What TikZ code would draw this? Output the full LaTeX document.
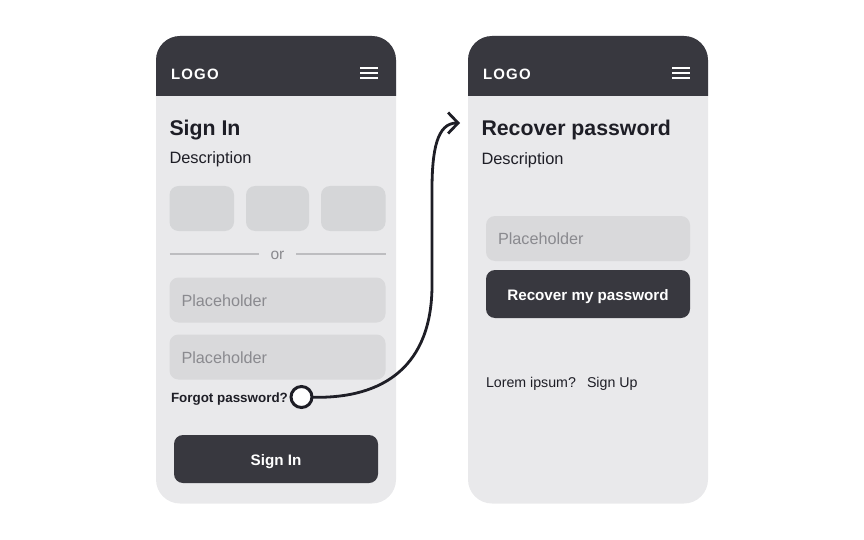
\documentclass[tikz,border=0pt]{standalone}
\usepackage{fontspec}
\setmainfont{Liberation Sans}
\newfontfamily\logofont[LetterSpace=8]{Liberation Sans}
\usetikzlibrary{arrows.meta}
\definecolor{darkfill}{HTML}{38383F}
\definecolor{bodyfill}{HTML}{E9E9EB}
\definecolor{fieldfill}{HTML}{D9D9DB}
\definecolor{tilefill}{HTML}{D5D6D8}
\definecolor{inktext}{HTML}{1E1E26}
\definecolor{hinttext}{HTML}{8A8A8F}
\definecolor{ruleline}{HTML}{BDBDC0}
\tikzstyle{every node}=[inner sep=0pt,outer sep=0pt]
\tikzstyle{screenbox}=[fill=bodyfill,rounded corners=24pt,minimum width=240pt,minimum height=467.5pt,anchor=north west]
\tikzstyle{tilebox}=[fill=tilefill,rounded corners=9pt,minimum height=45pt,anchor=north west]
\tikzstyle{fieldbox}=[fill=fieldfill,rounded corners=9pt,minimum height=45pt,anchor=north west,inner xsep=12pt,align=left,text=hinttext,text height=15pt,text depth=3pt,font=\fontsize{16.2}{18}\selectfont]
\tikzstyle{buttonbox}=[fill=darkfill,rounded corners=9pt,minimum height=48pt,minimum width=204pt,anchor=north west,text=white,text height=16pt,text depth=3pt,font=\fontsize{15.2}{18}\selectfont\bfseries]
\tikzstyle{titletext}=[anchor=base west,text=inktext,font=\fontsize{21.3}{26}\selectfont\bfseries]
\tikzstyle{bodytext}=[anchor=base west,text=inktext,font=\fontsize{16.4}{18}\selectfont]
\tikzstyle{smalltext}=[anchor=base west,text=inktext,font=\fontsize{14.2}{17}\selectfont]
\tikzstyle{logotext}=[anchor=base west,text=white,font=\fontsize{15}{18}\logofont\bfseries]
\tikzstyle{ruledraw}=[draw=ruleline,line width=1.3pt]
\tikzstyle{flowline}=[draw=inktext,line width=2.8pt,line cap=round,-{Straight Barb[length=10pt,width=21pt,line width=2.8pt]}]

\begin{document}
\begin{tikzpicture}[x=1pt,y=-1pt]
  \useasboundingbox (0,0) rectangle (864,540);
  \foreach \x/\n in {156/one,468/two} {
    \node [screenbox] (screen\n) at (\x,36) {};
    \fill [darkfill] (\x,96) [rounded corners=24pt] -- (\x,36) -- (\x+240,36) [sharp corners] -- (\x+240,96) -- cycle;
    \node [logotext] (logo\n) at (\x+15,79.5) {LOGO};
    \foreach \y in {68,73,78}
      \draw [white,line width=1.9pt] (\x+204,\y) -- (\x+222,\y);
  }
  % first screen
  \node [titletext] (signtitle) at (169.5,135.5) {Sign In};
  \node [bodytext] (signdesc) at (169.5,163.5) {Description};
  \node [tilebox,minimum width=64.5pt] (tileone) at (169.5,186) {};
  \node [tilebox,minimum width=63pt] (tiletwo) at (246,186) {};
  \node [tilebox,minimum width=64.5pt] (tilethree) at (321,186) {};
  \node [text=hinttext,minimum width=37pt,text height=11pt,text depth=0pt,font=\fontsize{15.5}{18}\selectfont] (ornode) at (277.5,254) {or};
  \coordinate (ruleleft) at (169.5,254);
  \coordinate (ruleright) at (385.5,254);
  \draw [ruledraw] (ruleleft) -- (ornode);
  \draw [ruledraw] (ornode) -- (ruleright);
  \node [fieldbox,text width=192pt] (fieldone) at (169.5,277.5) {Placeholder};
  \node [fieldbox,text width=192pt] (fieldtwo) at (169.5,334.5) {Placeholder};
  \node [smalltext,font=\fontsize{13.4}{17}\selectfont\bfseries] (forgot) at (171,402) {Forgot password?};
  \node [buttonbox] (signbutton) at (174,435) {Sign In};
  % second screen
  \node [titletext] (rectitle) at (481.5,135.5) {Recover password};
  \node [bodytext] (recdesc) at (481.5,165) {Description};
  \node [fieldbox,text width=180pt] (fieldrec) at (486,216) {Placeholder};
  \node [buttonbox] (recbutton) at (486,270) {Recover my password};
  \node [smalltext] (lorem) at (486,387) {Lorem ipsum?};
  \node [smalltext] (signup) at (587,387) {Sign Up};
  % link between screens
  \node [circle,fill=white,draw=inktext,line width=3pt,minimum size=21pt] (hotspot) at (301.5,397) {};
  \coordinate (arrowend) at (460,123);
  \draw [flowline] (hotspot) .. controls (385,399) and (432,365) .. (432,285) -- (432,190) .. controls (432,150) and (437,123) .. (arrowend);
\end{tikzpicture}
\end{document}
